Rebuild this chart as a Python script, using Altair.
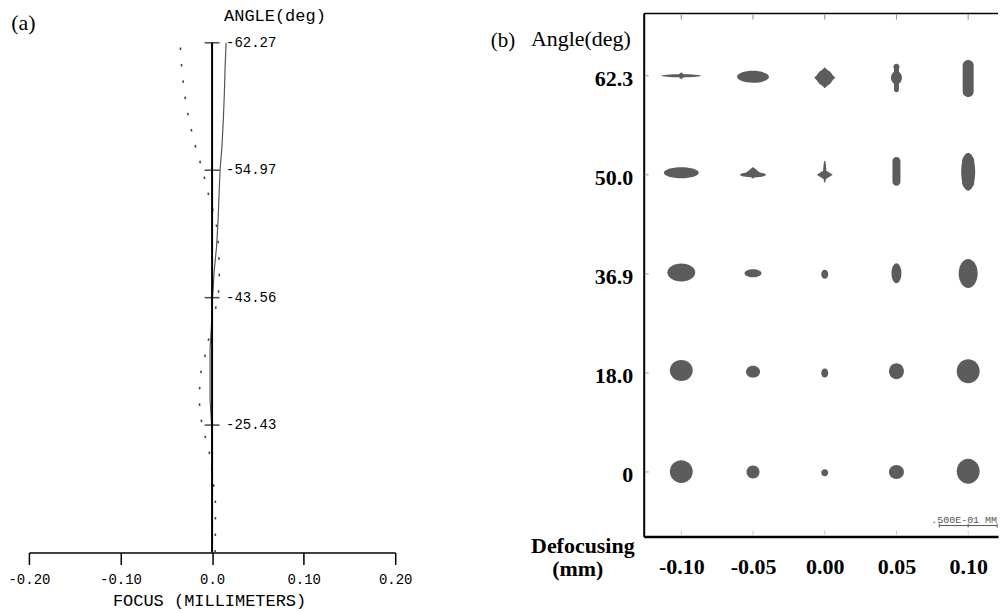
import json
import altair as alt
import pandas as pd

# ---------------- Panel (a): field curvature ----------------
FIELD_FRACTION = [0.00, 0.05, 0.10, 0.15, 0.20, 0.25, 0.30, 0.35, 0.40, 0.45, 0.50,
                  0.55, 0.60, 0.65, 0.70, 0.75, 0.80, 0.85, 0.90, 0.95, 1.00]
FOCUS_SOLID = [0.0003, 0.0003, 0.0003, 0.0002, 0.0000, -0.0005, -0.0022, -0.0022, -0.0022, -0.0005, 0.0005,
               0.0022, 0.0049, 0.0065, 0.0076, 0.0087, 0.0109, 0.0123, 0.0134, 0.0142, 0.0153]
FOCUS_DOTTED = [0.0033, 0.0037, 0.0036, 0.0007, -0.0033, -0.0111, -0.0143, -0.0127, -0.0058, -0.0003, 0.0068,
                0.0080, 0.0072, 0.0043, -0.0036, -0.0104, -0.0186, -0.0255, -0.0302, -0.0332, -0.0349]
FIELD_RANGE = [0.0, 1.0]
ANGLE_TICK_FRACTION = [0.25, 0.50, 0.75, 1.00]
ANGLE_TICK_LABELS = ["-25.43", "-43.56", "-54.97", "-62.27"]
FOCUS_TICKS = [-0.20, -0.10, 0.0, 0.10, 0.20]
FOCUS_TICK_LABELS = ["-0.20", "-0.10", "0.0", "0.10", "0.20"]

# ---------------- Panel (b): spot diagrams ----------------
DEFOCUS = [-0.10, -0.05, 0.00, 0.05, 0.10]
DEFOCUS_LABELS = ["-0.10", "-0.05", "0.00", "0.05", "0.10"]
ROW_ANGLE_LABELS = ["0", "18.0", "36.9", "50.0", "62.3"]
SCALE_BAR_UM = 50
SCALE_BAR_TEXT = ".500E-01 MM"

# each spot is drawn as one or more blob components (sizes in micrometres)
SPOT_ROW = [4, 4, 4, 4, 4, 4, 4, 4, 4,
            3, 3, 3, 3, 3, 3, 3, 3,
            2, 2, 2, 2, 2,
            1, 1, 1, 1, 1,
            0, 0, 0, 0, 0]
SPOT_COL = [0, 0, 1, 2, 2, 3, 3, 3, 4,
            0, 1, 1, 2, 2, 3, 4, 4,
            0, 1, 2, 3, 4,
            0, 1, 2, 3, 4,
            0, 1, 2, 3, 4]
SPOT_KIND = ["ellipse", "diamond", "ellipse", "ellipse", "diamond", "stadium", "ellipse", "ellipse", "stadium",
             "ellipse", "ellipse", "diamond", "ellipse", "diamond", "stadium", "ellipse", "stadium",
             "ellipse", "ellipse", "ellipse", "ellipse", "ellipse",
             "ellipse", "ellipse", "ellipse", "ellipse", "ellipse",
             "ellipse", "ellipse", "ellipse", "ellipse", "ellipse"]
SPOT_W_UM = [34.5, 6.9, 27.6, 13.8, 18.1, 4.3, 9.5, 5.2, 9.5,
             30.2, 22.4, 12.1, 2.6, 13.8, 6.9, 12.1, 10.3,
             24.1, 14.7, 6.0, 8.6, 16.4,
             19.8, 12.1, 6.0, 12.9, 19.8,
             19.8, 11.2, 6.0, 12.9, 19.8]
SPOT_H_UM = [2.6, 6.0, 10.3, 13.8, 18.1, 24.1, 11.2, 5.2, 31.9,
             9.5, 4.3, 10.3, 19.0, 8.6, 25.0, 32.8, 29.3,
             15.5, 6.9, 7.8, 17.2, 25.0,
             18.1, 10.3, 7.8, 13.8, 20.7,
             19.8, 11.2, 6.0, 12.1, 21.6]
SPOT_DY_UM = [0.0, 0.0, 0.9, 1.7, 1.7, 2.2, 1.7, -7.8, 2.3,
              -1.7, 0.0, -1.7, -2.6, 0.0, -3.0, -2.6, -2.6,
              -1.1, -0.6, 0.3, -0.6, -0.3,
              -2.0, -1.1, 0.0, -1.5, -1.5,
              -0.3, 0.0, 0.6, 0.0, -0.6]

# ---------------- styling / geometry helpers ----------------
UM_PX = 58 / 50.0   # pixels per micrometre in the spot panel
K = 0.5523
SERIF = "Liberation Serif"
MONO = "Liberation Mono"
SPOT_COLOR = "#5c5c5c"


def f2(v):
    return f"{v:.2f}"


def ellipse_path(a, b, c):
    return (f"M{f2(a)},{f2(c)} C{f2(a)},{f2(c + K * b)} {f2(K * a)},{f2(c + b)} 0,{f2(c + b)} "
            f"C{f2(-K * a)},{f2(c + b)} {f2(-a)},{f2(c + K * b)} {f2(-a)},{f2(c)} "
            f"C{f2(-a)},{f2(c - K * b)} {f2(-K * a)},{f2(c - b)} 0,{f2(c - b)} "
            f"C{f2(K * a)},{f2(c - b)} {f2(a)},{f2(c - K * b)} {f2(a)},{f2(c)} Z")


def diamond_path(a, b, c):
    return f"M0,{f2(c - b)} L{f2(a)},{f2(c)} L0,{f2(c + b)} L{f2(-a)},{f2(c)} Z"


def stadium_path(a, b, c):
    r = a
    L = max(b - r, 0)
    t, u = c - L, c + L
    return (f"M{f2(-a)},{f2(t)} C{f2(-a)},{f2(t - K * r)} {f2(-K * r)},{f2(t - r)} 0,{f2(t - r)} "
            f"C{f2(K * r)},{f2(t - r)} {f2(a)},{f2(t - K * r)} {f2(a)},{f2(t)} "
            f"L{f2(a)},{f2(u)} C{f2(a)},{f2(u + K * r)} {f2(K * r)},{f2(u + r)} 0,{f2(u + r)} "
            f"C{f2(-K * r)},{f2(u + r)} {f2(-a)},{f2(u + K * r)} {f2(-a)},{f2(u)} Z")


def spot_path(kind, w, h, dy):
    a, b, c = w * UM_PX / 2, h * UM_PX / 2, dy * UM_PX
    if kind == "diamond":
        return diamond_path(a, b, c)
    if kind == "stadium":
        return stadium_path(a, b, c)
    return ellipse_path(a, b, c)


ONE = pd.DataFrame({"_": [0]})


def note(text, x, y, font, size, weight="normal", align="center", baseline="middle"):
    return alt.Chart(ONE).mark_text(text=text, font=font, fontSize=size, fontWeight=weight,
                                    align=align, baseline=baseline, color="black").encode(
        x=alt.value(x), y=alt.value(y))


# ======================= Panel (a) =======================
SCALE_XA = alt.Scale(domain=[-0.2, 0.2], nice=False, zero=False)
SCALE_YA = alt.Scale(domain=[0, 1.0573], nice=False, zero=False)
label_expr_a = f"{json.dumps(FOCUS_TICK_LABELS)}[round((datum.value - ({FOCUS_TICKS[0]})) * 10)]"
AXIS_XA = alt.Axis(values=FOCUS_TICKS, labelExpr=label_expr_a, grid=False, title=None,
                   domainColor="black", domainWidth=1.5, tickColor="black", tickWidth=1.5,
                   tickSize=12, labelPadding=15, labelBaseline="middle", labelFont=MONO,
                   labelFontSize=14, labelColor="black", labelFlush=False, labelOverlap=False)


def xa(field):
    return alt.X(field, scale=SCALE_XA, axis=AXIS_XA, title=None)


def ya(field):
    return alt.Y(field, scale=SCALE_YA, axis=None)


df_curve = pd.DataFrame({"field": FIELD_FRACTION, "solid": FOCUS_SOLID, "dotted": FOCUS_DOTTED})
df_vaxis = pd.DataFrame({"focus": [0.0], "f0": [FIELD_RANGE[0]], "f1": [FIELD_RANGE[1]]})
df_angle = pd.DataFrame({"focus": [0.0] * len(ANGLE_TICK_FRACTION), "field": ANGLE_TICK_FRACTION,
                         "label": ANGLE_TICK_LABELS})

bounds_rule = alt.Chart(ONE).mark_rule(opacity=0, strokeOpacity=0).encode(
    x=alt.value(-28.3), x2=alt.value(0), y=alt.value(-12.7), y2=alt.value(0))

solid = alt.Chart(df_curve).mark_line(color="#555555", strokeWidth=1.2).encode(
    x=xa("solid:Q"), y=ya("field:Q"), order="field:Q")

dotted = alt.Chart(df_curve).mark_line(color="#444444", strokeWidth=1.6, strokeDash=[2.5, 14]).encode(
    x=xa("dotted:Q"), y=ya("field:Q"), order="field:Q")

vaxis = alt.Chart(df_vaxis).mark_rule(color="black", strokeWidth=2).encode(
    x=xa("focus:Q"), y=ya("f0:Q"), y2="f1:Q")

angle_ticks = alt.Chart(df_angle).mark_tick(orient="horizontal", size=15, thickness=1.5, color="black").encode(
    x=xa("focus:Q"), y=ya("field:Q"))

angle_labels = alt.Chart(df_angle).mark_text(align="left", baseline="middle", dx=14, font=MONO,
                                             fontSize=14, color="black").encode(
    x=xa("focus:Q"), y=ya("field:Q"), text="label:N")

panel_a = alt.layer(
    solid, dotted, vaxis, angle_ticks, angle_labels, bounds_rule,
    note("(a)", -5.5, 9, SERIF, 22),
    note("ANGLE(deg)", 246.5, 2, MONO, 17),
    note("FOCUS (MILLIMETERS)", 181, 589, MONO, 17),
).properties(width=367, height=540)

# ======================= Panel (b) =======================
SCALE_XB = alt.Scale(domain=[-0.1262, 0.1208], nice=False, zero=False)
SCALE_YB = alt.Scale(domain=[-0.652, 4.628], nice=False, zero=False)
label_expr_bx = f"{json.dumps(DEFOCUS_LABELS)}[round((datum.value - ({DEFOCUS[0]})) * 20)]"
label_expr_by = f"{json.dumps(ROW_ANGLE_LABELS)}[round(datum.value)]"
AXIS_XB = alt.Axis(orient="bottom", values=DEFOCUS, labelExpr=label_expr_bx, grid=False, title=None,
                   ticks=False, tickSize=0, domainColor="black", domainWidth=2.5,
                   labelPadding=30, labelBaseline="middle", labelFont=SERIF, labelFontSize=22,
                   labelFontWeight="bold", labelColor="black", labelFlush=False, labelOverlap=False)
AXIS_YB = alt.Axis(values=list(range(len(ROW_ANGLE_LABELS))), labelExpr=label_expr_by, grid=False,
                   title=None, ticks=False, tickSize=0, domainColor="black", domainWidth=2,
                   labelPadding=11, labelOffset=3, labelFont=SERIF, labelFontSize=22,
                   labelFontWeight="bold", labelColor="black", labelFlush=False, labelOverlap=False)


def xb(field):
    return alt.X(field, scale=SCALE_XB, axis=AXIS_XB, title=None)


def yb(field):
    return alt.Y(field, scale=SCALE_YB, axis=AXIS_YB, title=None)


df_spots = pd.DataFrame({
    "defocus": [DEFOCUS[c] for c in SPOT_COL],
    "row": SPOT_ROW,
    "path": [spot_path(k, w, h, d) for k, w, h, d in zip(SPOT_KIND, SPOT_W_UM, SPOT_H_UM, SPOT_DY_UM)],
})
df_cols = pd.DataFrame({"defocus": DEFOCUS})
df_rows = pd.DataFrame({"row": list(range(len(ROW_ANGLE_LABELS)))})
df_bar = pd.DataFrame({"defocus": [DEFOCUS[-1]]})

spots = alt.Chart(df_spots).mark_point(filled=True, size=4, opacity=1, color=SPOT_COLOR, strokeWidth=0).encode(
    x=xb("defocus:Q"), y=yb("row:Q"), shape=alt.Shape("path:N", scale=None))

top_border = alt.Chart(ONE).mark_rule(color="black", strokeWidth=1.5).encode(
    x=alt.value(0), x2=alt.value(355), y=alt.value(0))

top_ticks = alt.Chart(df_cols).mark_rule(color="#888888", strokeWidth=1).encode(
    x=xb("defocus:Q"), y=alt.value(1), y2=alt.value(6))

bottom_ticks = alt.Chart(df_cols).mark_rule(color="#cccccc", strokeWidth=1).encode(
    x=xb("defocus:Q"), y=alt.value(518), y2=alt.value(523))

left_ticks = alt.Chart(df_rows).mark_rule(color="#999999", strokeWidth=1).encode(
    y=yb("row:Q"), x=alt.value(1), x2=alt.value(5))

bar_half = SCALE_BAR_UM * UM_PX / 2
bar_path = (f"M{f2(-bar_half)},0 L{f2(bar_half)},0 M{f2(-bar_half)},-2 L{f2(-bar_half)},2 "
            f"M0,-2 L0,2 M{f2(bar_half)},-2 L{f2(bar_half)},2")
scale_bar = alt.Chart(df_bar).mark_point(shape=bar_path, size=4, filled=False, color="#555555",
                                         strokeWidth=1, opacity=1).encode(
    x=xb("defocus:Q"), y=alt.value(513))
scale_text = alt.Chart(df_bar).mark_text(text=SCALE_BAR_TEXT, align="left", baseline="middle", dx=-37,
                                         font=MONO, fontSize=10, color="#555555").encode(
    x=xb("defocus:Q"), y=alt.value(507))

panel_b = alt.layer(
    spots, top_border, top_ticks, bottom_ticks, left_ticks, scale_bar, scale_text,
    note("(b)", -141, 27, SERIF, 21),
    note("Angle(deg)", -63, 32, SERIF, 22, baseline="alphabetic"),
    note("Defocusing", -61, 533, SERIF, 22, weight="bold"),
    note("(mm)", -66, 557, SERIF, 22, weight="bold"),
).properties(width=355, height=524)

chart = alt.hconcat(panel_a, panel_b, spacing=249, bounds="flush").properties(
    padding=0
).configure_view(stroke=None)

chart.save("out.html", embed_options={"renderer": "svg", "actions": False})
